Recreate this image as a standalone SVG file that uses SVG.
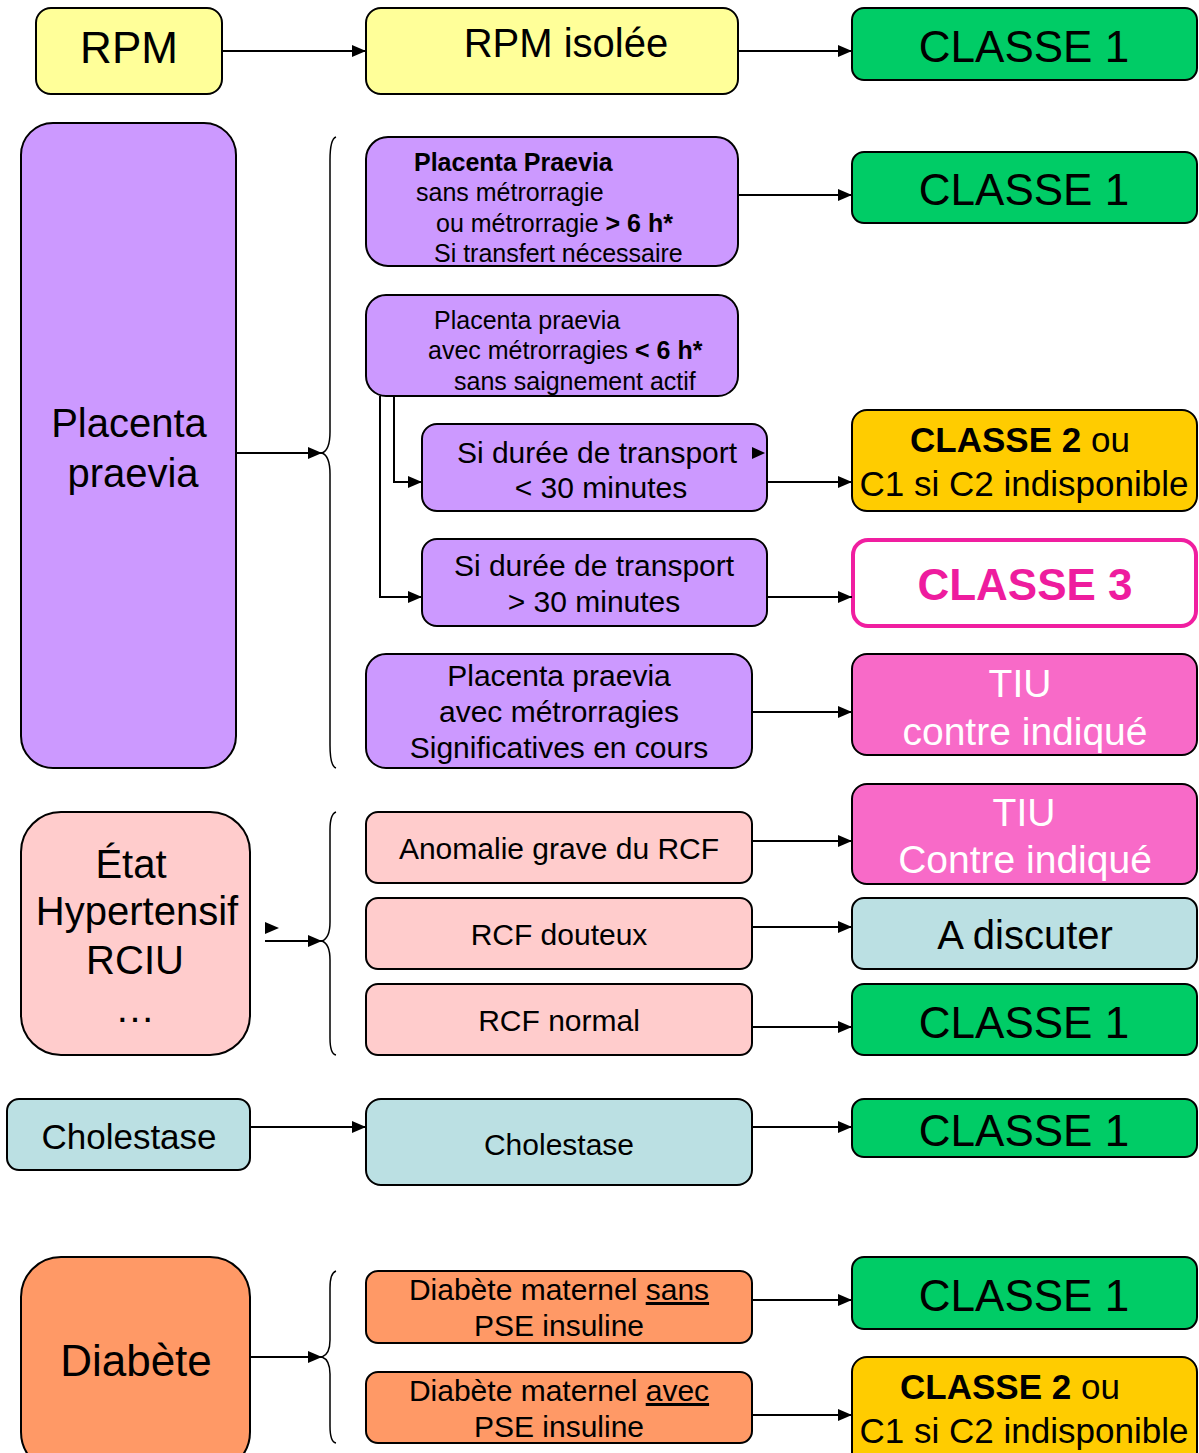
<svg xmlns="http://www.w3.org/2000/svg" width="1199" height="1453" viewBox="0 0 1199 1453">
<style>
text{font-family:"Liberation Sans",Arial,sans-serif;fill:#000}
.b{stroke:#000;stroke-width:2}
.yel{fill:#FFFF99}.grn{fill:#00CC66}.pur{fill:#CC99FF}.pnk{fill:#FFCCCC}.org{fill:#FF9966}.cya{fill:#BBE0E3}.mag{fill:#F86AC8}.gold{fill:#FFCC00}
.c{text-anchor:middle}
.w{fill:#fff}
.ln{stroke:#000;stroke-width:2;fill:none}
.br{stroke:#000;stroke-width:1.5;fill:none}
</style>
<defs>
<marker id="ah" markerUnits="userSpaceOnUse" markerWidth="14" markerHeight="12" refX="14" refY="6" orient="auto"><path d="M0,0 L14,6 L0,12 z" fill="#000"/></marker>
</defs>

<g id="rpm"><rect class="b yel" x="36" y="8" width="186" height="86" rx="15"/><text class="c" x="129" y="63" font-size="44">RPM</text></g>
<g id="rpm-isolee"><rect class="b yel" x="366" y="8" width="372" height="86" rx="15"/><text class="c" x="566" y="57" font-size="40">RPM isolée</text></g>
<g id="classe1-a"><rect class="b grn" x="852" y="8" width="345" height="72" rx="12"/><text class="c" x="1024" y="62" font-size="44">CLASSE 1</text></g>

<g id="placenta"><rect class="b pur" x="21" y="123" width="215" height="645" rx="32"/><text class="c" x="129" y="437" font-size="40">Placenta</text><text class="c" x="133" y="487" font-size="40">praevia</text></g>

<g id="pp1"><rect class="b pur" x="366" y="137" width="372" height="129" rx="22"/>
<text x="414" y="171" font-size="25" font-weight="bold">Placenta Praevia</text>
<text x="416" y="201" font-size="25">sans métrorragie</text>
<text x="436" y="232" font-size="25">ou métrorragie <tspan font-weight="bold">&gt; 6 h*</tspan></text>
<text x="434" y="262" font-size="25">Si transfert nécessaire</text></g>
<g id="classe1-b"><rect class="b grn" x="852" y="152" width="345" height="71" rx="12"/><text class="c" x="1024" y="205" font-size="44">CLASSE 1</text></g>

<g id="pp2"><rect class="b pur" x="366" y="295" width="372" height="101" rx="20"/>
<text x="434" y="329" font-size="25">Placenta praevia</text>
<text x="428" y="359" font-size="25">avec métrorragies <tspan font-weight="bold">&lt; 6 h*</tspan></text>
<text x="454" y="390" font-size="25">sans saignement actif</text></g>

<g id="t1"><rect class="b pur" x="422" y="424" width="345" height="87" rx="15"/>
<text class="c" x="597" y="463" font-size="30">Si durée de transport</text>
<text class="c" x="601" y="498" font-size="30">&lt; 30 minutes</text>
<path d="M752,447 L765,453 L752,459 z" fill="#000"/></g>
<g id="classe2-a"><rect class="b gold" x="852" y="410" width="345" height="101" rx="15"/>
<text class="c" x="1020" y="452" font-size="35"><tspan font-weight="bold">CLASSE 2</tspan> ou</text>
<text class="c" x="1024" y="496" font-size="35">C1 si C2 indisponible</text></g>

<g id="t2"><rect class="b pur" x="422" y="539" width="345" height="87" rx="15"/>
<text class="c" x="594" y="576" font-size="30">Si durée de transport</text>
<text class="c" x="594" y="612" font-size="30">&gt; 30 minutes</text></g>
<g id="classe3"><rect x="853" y="540" width="343" height="86" rx="15" fill="#fff" stroke="#F01EA0" stroke-width="4"/>
<text class="c" x="1025" y="600" font-size="44" font-weight="bold" style="fill:#EE1C9E">CLASSE 3</text></g>

<g id="pp3"><rect class="b pur" x="366" y="654" width="386" height="114" rx="20"/>
<text class="c" x="559" y="686" font-size="30">Placenta praevia</text>
<text class="c" x="559" y="722" font-size="30">avec métrorragies</text>
<text class="c" x="559" y="758" font-size="30">Significatives en cours</text></g>
<g id="tiu-a"><rect class="b mag" x="852" y="654" width="345" height="101" rx="15"/>
<text class="c w" x="1020" y="697" font-size="39">TIU</text>
<text class="c w" x="1025" y="745" font-size="39">contre indiqué</text></g>

<g id="etat"><rect class="b pnk" x="21" y="812" width="229" height="243" rx="40"/>
<text class="c" x="131" y="878" font-size="40">État</text>
<text class="c" x="137" y="925" font-size="40">Hypertensif</text>
<text class="c" x="135" y="974" font-size="40">RCIU</text>
<text class="c" x="135" y="1022" font-size="40">…</text></g>
<path d="M265,922 L279,928 L265,934 z" fill="#000"/>

<g id="a1"><rect class="b pnk" x="366" y="812" width="386" height="71" rx="12"/><text class="c" x="559" y="859" font-size="30">Anomalie grave du RCF</text></g>
<g id="tiu-b"><rect class="b mag" x="852" y="784" width="345" height="100" rx="15"/>
<text class="c w" x="1024" y="826" font-size="39">TIU</text>
<text class="c w" x="1025" y="873" font-size="39">Contre indiqué</text></g>

<g id="a2"><rect class="b pnk" x="366" y="898" width="386" height="71" rx="12"/><text class="c" x="559" y="945" font-size="30">RCF douteux</text></g>
<g id="discuter"><rect class="b cya" x="852" y="898" width="345" height="71" rx="12"/><text class="c" x="1025" y="949" font-size="40">A discuter</text></g>

<g id="a3"><rect class="b pnk" x="366" y="984" width="386" height="71" rx="12"/><text class="c" x="559" y="1031" font-size="30">RCF normal</text></g>
<g id="classe1-c"><rect class="b grn" x="852" y="984" width="345" height="71" rx="12"/><text class="c" x="1024" y="1038" font-size="44">CLASSE 1</text></g>

<g id="chol1"><rect class="b cya" x="7" y="1099" width="243" height="71" rx="12"/><text class="c" x="129" y="1149" font-size="35">Cholestase</text></g>
<g id="chol2"><rect class="b cya" x="366" y="1099" width="386" height="86" rx="15"/><text class="c" x="559" y="1155" font-size="30">Cholestase</text></g>
<g id="classe1-d"><rect class="b grn" x="852" y="1099" width="345" height="58" rx="12"/><text class="c" x="1024" y="1146" font-size="44">CLASSE 1</text></g>

<g id="diabete"><rect class="b org" x="21" y="1257" width="229" height="215" rx="40"/><text class="c" x="136" y="1376" font-size="44">Diabète</text></g>
<g id="d1"><rect class="b org" x="366" y="1271" width="386" height="72" rx="12"/>
<text class="c" x="559" y="1300" font-size="30">Diabète maternel <tspan text-decoration="underline">sans</tspan></text>
<text class="c" x="559" y="1336" font-size="30">PSE insuline</text></g>
<g id="classe1-e"><rect class="b grn" x="852" y="1257" width="345" height="72" rx="12"/><text class="c" x="1024" y="1311" font-size="44">CLASSE 1</text></g>
<g id="d2"><rect class="b org" x="366" y="1372" width="386" height="71" rx="12"/>
<text class="c" x="559" y="1401" font-size="30">Diabète maternel <tspan text-decoration="underline">avec</tspan></text>
<text class="c" x="559" y="1437" font-size="30">PSE insuline</text></g>
<g id="classe2-b"><rect class="b gold" x="852" y="1357" width="345" height="110" rx="15"/>
<text class="c" x="1010" y="1399" font-size="35"><tspan font-weight="bold">CLASSE 2</tspan> ou</text>
<text class="c" x="1024" y="1443" font-size="35">C1 si C2 indisponible</text></g>

<g id="connectors">
<line class="ln" x1="222" y1="51" x2="366" y2="51" marker-end="url(#ah)"/>
<line class="ln" x1="738" y1="51" x2="852" y2="51" marker-end="url(#ah)"/>
<line class="ln" x1="236" y1="453" x2="322" y2="453" marker-end="url(#ah)"/>
<path class="br" d="M336,137 Q330,139 330,160 L330,432 Q330,450 322,453 Q330,456 330,474 L330,745 Q330,766 336,768"/>
<line class="ln" x1="738" y1="195" x2="852" y2="195" marker-end="url(#ah)"/>
<polyline class="ln" points="394,396 394,482 422,482" marker-end="url(#ah)"/>
<polyline class="ln" points="380,396 380,597 422,597" marker-end="url(#ah)"/>
<line class="ln" x1="767" y1="482" x2="852" y2="482" marker-end="url(#ah)"/>
<line class="ln" x1="767" y1="597" x2="852" y2="597" marker-end="url(#ah)"/>
<line class="ln" x1="752" y1="712" x2="852" y2="712" marker-end="url(#ah)"/>
<line class="ln" x1="265" y1="941" x2="322" y2="941" marker-end="url(#ah)"/>
<path class="br" d="M336,812 Q330,814 330,830 L330,922 Q330,938 322,941 Q330,944 330,960 L330,1038 Q330,1054 336,1055"/>
<line class="ln" x1="752" y1="841" x2="852" y2="841" marker-end="url(#ah)"/>
<line class="ln" x1="752" y1="927" x2="852" y2="927" marker-end="url(#ah)"/>
<line class="ln" x1="752" y1="1027" x2="852" y2="1027" marker-end="url(#ah)"/>
<line class="ln" x1="250" y1="1127" x2="366" y2="1127" marker-end="url(#ah)"/>
<line class="ln" x1="752" y1="1127" x2="852" y2="1127" marker-end="url(#ah)"/>
<line class="ln" x1="250" y1="1357" x2="322" y2="1357" marker-end="url(#ah)"/>
<path class="br" d="M336,1271 Q330,1273 330,1288 L330,1340 Q330,1354 322,1357 Q330,1360 330,1374 L330,1426 Q330,1442 336,1443"/>
<line class="ln" x1="752" y1="1300" x2="852" y2="1300" marker-end="url(#ah)"/>
<line class="ln" x1="752" y1="1415" x2="852" y2="1415" marker-end="url(#ah)"/>
</g>
</svg>
